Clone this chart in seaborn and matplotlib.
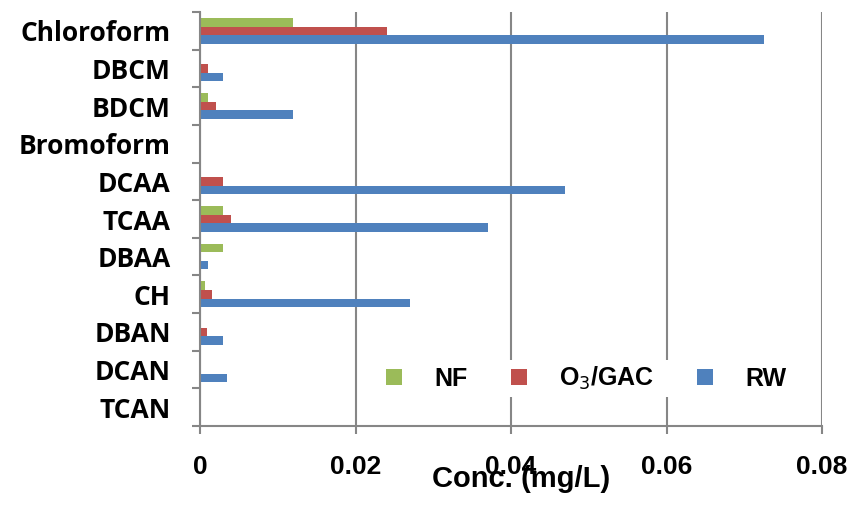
import pandas as pd
import matplotlib
matplotlib.use('Agg')
import matplotlib.pyplot as plt
import seaborn as sns
from matplotlib.ticker import FixedLocator

# ====== DATA

compounds = ['Chloroform', 'DBCM', 'BDCM', 'Bromoform', 'DCAA', 'TCAA',
             'DBAA', 'CH', 'DBAN', 'DCAN', 'TCAN']
nf = [0.012, 0.0, 0.001, 0.0, 0.0, 0.003, 0.003, 0.0006, 0.0, 0.0, 0.0]
o3_gac = [0.024, 0.001, 0.002, 0.0, 0.003, 0.004, 0.0, 0.0015, 0.0009, 0.0, 0.0]
rw = [0.0726, 0.003, 0.012, 0.0, 0.047, 0.037, 0.001, 0.027, 0.003, 0.0035, 0.0]

series = ['NF', 'O$_3$/GAC', 'RW']
colors = ['#9BBB59', '#C0504D', '#4F81BD']

df = pd.DataFrame({
    'compound': compounds * 3,
    'treatment': [series[0]] * 11 + [series[1]] * 11 + [series[2]] * 11,
    'conc': nf + o3_gac + rw,
})

# ====== PLOT

sns.set_style('white')
plt.rcParams['font.family'] = ['Open Sans', 'DejaVu Sans']
plt.rcParams['text.color'] = 'black'
plt.rcParams['axes.labelcolor'] = 'black'
plt.rcParams['xtick.labelcolor'] = 'black'
plt.rcParams['ytick.labelcolor'] = 'black'

fig = plt.figure(figsize=(8.66, 5.05), dpi=100)
ax = fig.add_axes([200 / 866, 1 - 426 / 505, 622 / 866, 414 / 505])

sns.barplot(data=df, y='compound', x='conc', hue='treatment', hue_order=series,
            palette=colors, saturation=1, orient='h', width=0.68, linewidth=0, ax=ax)

ax.set_xlim(0, 0.08)
ax.set_ylim(10.5, -0.5)
ax.set_xticks([0, 0.02, 0.04, 0.06, 0.08])
ax.set_xticklabels(['0', '0.02', '0.04', '0.06', '0.08'], fontsize=19, fontweight='bold',
                   family='Liberation Sans')
ax.set_yticks(range(len(compounds)))
ax.set_yticklabels(compounds, fontsize=19, fontweight='bold')
ax.yaxis.set_minor_locator(FixedLocator([i - 0.5 for i in range(len(compounds) + 1)]))
ax.tick_params(axis='y', which='major', length=0, pad=21)
ax.tick_params(axis='y', which='minor', length=6, width=1.5, color='#868686', left=True)
ax.tick_params(axis='x', length=6, width=1.5, color='#868686', pad=15, bottom=True)

ax.grid(axis='x', color='#868686', linewidth=1.5)
ax.set_axisbelow(True)
for side in ['top', 'right']:
    ax.spines[side].set_visible(False)
for side in ['left', 'bottom']:
    ax.spines[side].set_color('#868686')
    ax.spines[side].set_linewidth(1.5)

ax.set_ylabel('')
ax.set_xlabel('Conc. (mg/L)', fontsize=21, fontweight='bold', family='Liberation Sans')
ax.xaxis.set_label_coords(0.516, -0.095)

handles, labels = ax.get_legend_handles_labels()
leg = ax.legend(handles, labels, ncol=3, loc='lower right', bbox_to_anchor=(0.951, 0.07),
                frameon=True, facecolor='white', edgecolor='none', framealpha=1,
                handlelength=0.64, handleheight=0.64, handletextpad=1.3, columnspacing=1.7,
                prop={'weight': 'bold', 'size': 18, 'family': 'Liberation Sans'},
                borderpad=0.2, borderaxespad=0)

plt.savefig('out.png', dpi=100)
plt.close()
